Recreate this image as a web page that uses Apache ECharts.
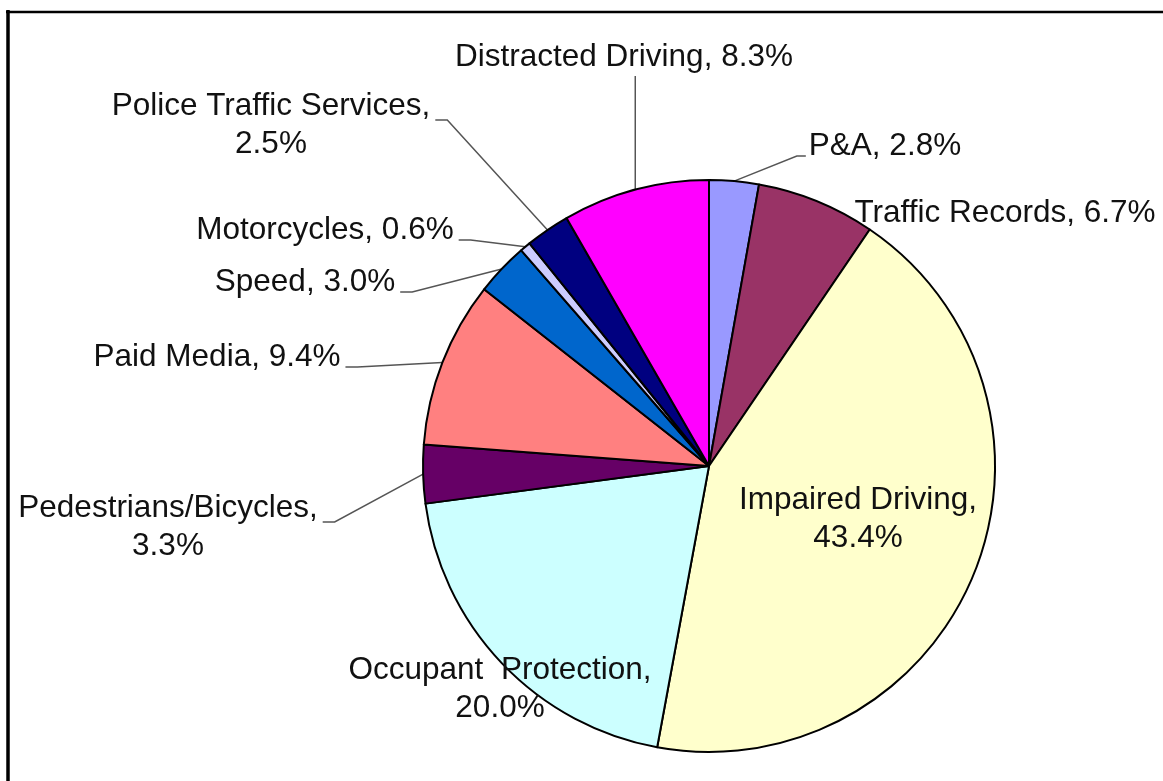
<!DOCTYPE html>
<html lang="en">
<head>
<meta charset="UTF-8">
<title>Program Area Shares</title>
<style>
  html, body { margin: 0; padding: 0; background: #fff; }
  #main { width: 1163px; height: 781px; }
</style>
</head>
<body>
<div id="main"></div>
<script src="https://cdn.jsdelivr.net/npm/echarts@6/dist/echarts.min.js"></script>
<script>
// program areas, clockwise from 12 o'clock
var areas = ['P&A', 'Traffic Records', 'Impaired Driving', 'Occupant  Protection', 'Pedestrians/Bicycles',
             'Paid Media', 'Speed', 'Motorcycles', 'Police Traffic Services', 'Distracted Driving'];
var shares = [2.8, 6.7, 43.4, 20.0, 3.3, 9.4, 3.0, 0.6, 2.5, 8.3];
var colors = ['#9999FF', '#993366', '#FFFFCC', '#CCFFFF', '#660066',
              '#FF8080', '#0066CC', '#CCCCFF', '#000080', '#FF00FF'];

// label placement: centre of the text block, side where the leader line attaches
var labelPos = [
    {x: 885, y: 146, line: 'left'},
    {x: 1005, y: 213, line: 'none'},
    {x: 858, y: 519, line: 'none', wrap: true},
    {x: 500, y: 689, line: 'none', wrap: true},
    {x: 168, y: 527, line: 'right', wrap: true},
    {x: 217, y: 357, line: 'right'},
    {x: 305, y: 282, line: 'right'},
    {x: 325, y: 230, line: 'right'},
    {x: 271, y: 125, line: 'right', wrap: true},
    {x: 624, y: 57, line: 'bottom'}
];

var myChart = echarts.init(document.getElementById('main'));

var pieData = areas.map(function (name, i) {
    return {
        name: name,
        value: shares[i],
        itemStyle: { color: colors[i] },
        labelLine: { show: labelPos[i].line !== 'none' }
    };
});

var option = {
    animation: false,
    backgroundColor: '#fff',
    graphic: [
        { type: 'line', shape: { x1: 8, y1: 10, x2: 8, y2: 781 }, style: { stroke: '#000', lineWidth: 3.5 } },
        { type: 'line', shape: { x1: 6, y1: 12, x2: 1163, y2: 12 }, style: { stroke: '#000', lineWidth: 2.5 } }
    ],
    series: [{
        type: 'pie',
        center: [709, 466],
        radius: 286,
        startAngle: 90,
        clockwise: true,
        data: pieData,
        itemStyle: { borderColor: '#000', borderWidth: 2 },
        label: {
            show: true,
            position: 'outside',
            color: '#111',
            fontFamily: 'Liberation Sans, Arial, sans-serif',
            fontSize: 31.5,
            lineHeight: 38,
            overflow: 'none',
            formatter: function (p) {
                var sep = labelPos[p.dataIndex].wrap ? ',\n' : ', ';
                return p.name + sep + p.value.toFixed(1) + '%';
            }
        },
        labelLine: {
            show: true,
            lineStyle: { color: '#555', width: 1.5 }
        },
        labelLayout: function (p) {
            var lp = labelPos[p.dataIndex];
            var w = p.labelRect.width, h = p.labelRect.height;
            var out = { x: lp.x, y: lp.y, align: 'center', verticalAlign: 'middle' };
            var a = p.labelLinePoints && p.labelLinePoints[0];
            if (a && lp.line !== 'none') {
                var dy = lp.wrap ? -5 : 10;
                var ex;
                if (lp.line === 'right') {
                    ex = lp.x + w / 2 + 5;
                    out.labelLinePoints = [a, [ex + 12, lp.y + dy], [ex, lp.y + dy]];
                } else if (lp.line === 'left') {
                    ex = lp.x - w / 2 - 3;
                    out.labelLinePoints = [a, [ex - 9, lp.y + dy], [ex, lp.y + dy]];
                } else {
                    var by = lp.y + h / 2;
                    out.labelLinePoints = [a, [a[0], by], [a[0], by]];
                }
            }
            return out;
        }
    }]
};

myChart.setOption(option);
</script>
</body>
</html>
